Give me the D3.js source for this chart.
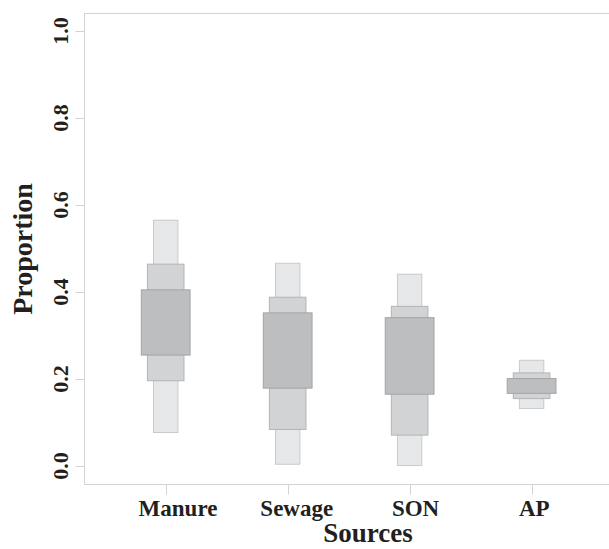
<!DOCTYPE html>
<html>
<head>
<meta charset="utf-8">
<script src="https://cdn.jsdelivr.net/npm/d3@7"></script>
<style>
body { margin: 0; background: #fff; }
text { font-family: "Liberation Serif", "Times New Roman", serif; font-weight: bold; fill: #231f20; }
</style>
</head>
<body>
<svg></svg>
<script>
var width = 609
var height = 549

// data: credible intervals per source
var sources = ["Manure", "Sewage", "SON", "AP"]
var lo95 = [0.077, 0.004, 0.001, 0.132]
var hi95 = [0.565, 0.466, 0.441, 0.243]
var lo75 = [0.196, 0.084, 0.071, 0.155]
var hi75 = [0.464, 0.388, 0.367, 0.214]
var lo50 = [0.255, 0.179, 0.165, 0.167]
var hi50 = [0.405, 0.352, 0.341, 0.201]
var yTicks = [0, 0.2, 0.4, 0.6, 0.8, 1.0]

var plotLeft = 84.5, plotTop = 13.5, plotBottom = 484.5

var svg = d3.select("svg")
	.attr("width", width)
	.attr("height", height)

var xScale = d3.scaleLinear()
	.domain([1, 4])
	.range([165.7, 531.6])

var yScale = d3.scaleLinear()
	.domain([0, 1])
	.range([466, 31])

// interval layers, widest interval drawn first
var layers = [
	{lo: lo95, hi: hi95, w: 0.2, fill: "#e6e7e8", stroke: "#c9cacc"},
	{lo: lo75, hi: hi75, w: 0.3, fill: "#d1d3d4", stroke: "#b3b4b6"},
	{lo: lo50, hi: hi50, w: 0.4, fill: "#bcbec0", stroke: "#a3a4a6"}
]

layers.forEach(function(L){
	svg.append("g")
		.selectAll("rect")
		.data(sources)
		.join("rect")
		.attr("x", function(d, i){ return xScale(i + 1 - L.w / 2); })
		.attr("width", function(d, i){ return xScale(i + 1 + L.w / 2) - xScale(i + 1 - L.w / 2); })
		.attr("y", function(d, i){ return yScale(L.hi[i]); })
		.attr("height", function(d, i){ return yScale(L.lo[i]) - yScale(L.hi[i]); })
		.attr("fill", L.fill)
		.attr("stroke", L.stroke)
		.attr("stroke-width", 1)
})

// frame (right side falls outside the picture)
var frameCol = "#d2d3d4"
svg.append("path")
	.attr("d", "M" + width + "," + plotTop + "H" + plotLeft + "V" + plotBottom + "H" + width)
	.attr("fill", "none")
	.attr("stroke", frameCol)

// y axis ticks + labels
svg.append("g")
	.selectAll("line")
	.data(yTicks)
	.join("line")
	.attr("x1", plotLeft - 9).attr("x2", plotLeft)
	.attr("y1", function(d){ return Math.round(yScale(d)) + 0.5; })
	.attr("y2", function(d){ return Math.round(yScale(d)) + 0.5; })
	.attr("stroke", frameCol)

svg.append("g")
	.selectAll("text")
	.data(yTicks)
	.join("text")
	.attr("transform", function(d){ return "translate(68," + yScale(d) + ") rotate(-90)"; })
	.attr("text-anchor", "middle")
	.style("font-size", "22px")
	.text(function(d){ return d3.format(".1f")(d); })

// x axis ticks + labels
svg.append("g")
	.selectAll("line")
	.data(sources)
	.join("line")
	.attr("x1", function(d, i){ return Math.round(xScale(i + 1)) + 0.5; })
	.attr("x2", function(d, i){ return Math.round(xScale(i + 1)) + 0.5; })
	.attr("y1", plotBottom).attr("y2", plotBottom + 10)
	.attr("stroke", frameCol)

svg.append("g")
	.selectAll("text")
	.data(sources)
	.join("text")
	.attr("x", function(d, i){ return xScale(i + 1) + (4 - i) * 3.2 - 0.5; })
	.attr("y", 516)
	.attr("text-anchor", "middle")
	.style("font-size", "23px")
	.text(function(d){ return d; })

// axis titles
svg.append("text")
	.attr("x", 368)
	.attr("y", 542)
	.attr("text-anchor", "middle")
	.style("font-size", "27px")
	.text("Sources")

svg.append("text")
	.attr("transform", "translate(32,249) rotate(-90)")
	.attr("text-anchor", "middle")
	.style("font-size", "28px")
	.text("Proportion")
</script>
</body>
</html>
